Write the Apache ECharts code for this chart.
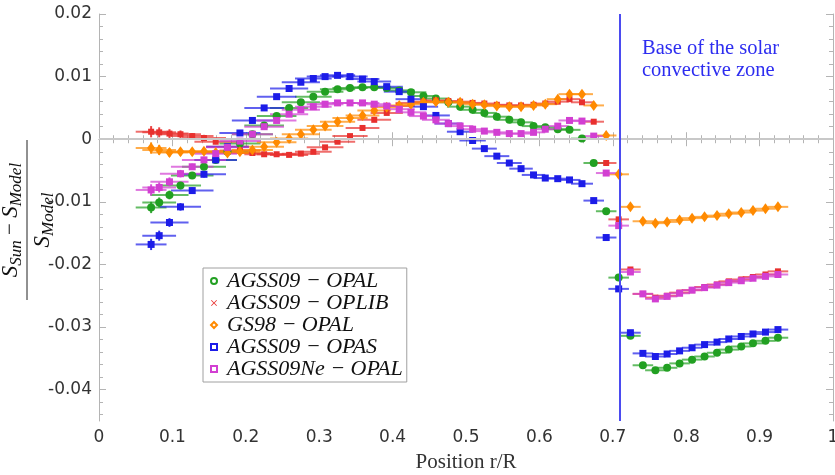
<!DOCTYPE html>
<html>
<head>
<meta charset="utf-8">
<script src="https://cdn.jsdelivr.net/npm/echarts@6/dist/echarts.min.js"></script>
<style>
  html, body { margin: 0; padding: 0; background: #fff; }
  #chart { width: 835px; height: 475px; }
</style>
</head>
<body>
<div id="chart"></div>
<script>
// radial positions r/R of the inversion kernels
var radius = [0.071,0.082,0.096,0.111,0.127,0.143,0.159,0.175,0.192,0.209,
  0.225,0.242,0.259,0.275,0.292,0.308,0.325,0.342,0.359,0.375,
  0.392,0.409,0.425,0.442,0.459,0.476,0.492,0.509,0.525,0.542,
  0.559,0.575,0.592,0.608,0.625,0.641,0.658,0.674,0.691,0.708,
  0.724,0.741,0.758,0.774,0.791,0.808,0.825,0.842,0.858,0.875,
  0.891,0.908,0.925];
// horizontal half width (kernel width) and vertical error
var halfWidth = [0.021,0.023,0.026,0.028,0.029,0.030,0.029,0.029,0.028,0.028,
  0.027,0.027,0.026,0.026,0.025,0.025,0.024,0.024,0.023,0.023,
  0.022,0.021,0.021,0.020,0.019,0.019,0.018,0.018,0.017,0.017,
  0.017,0.016,0.016,0.016,0.015,0.015,0.015,0.014,0.014,0.014,
  0.014,0.014,0.014,0.014,0.014,0.014,0.014,0.014,0.014,0.014,
  0.014,0.014,0.014];
var vertErr = [0.0009,0.0008,0.0007,0.0006,0.0005,0.0005,0.0004,0.0004,0.0004,0.0004,
  0.0003,0.0003,0.0003,0.0003,0.0003,0.0003,0.0003,0.0003,0.0003,0.0003,
  0.0003,0.0003,0.0003,0.0003,0.0003,0.0003,0.0003,0.0003,0.0003,0.0003,
  0.0003,0.0003,0.0003,0.0003,0.0003,0.0003,0.0003,0.0003,0.0003,0.0003,
  0.0003,0.0003,0.0003,0.0003,0.0003,0.0003,0.0003,0.0003,0.0003,0.0003,
  0.0003,0.0003,0.0003];

var agss09Opal = [-0.0109,-0.0101,-0.0089,-0.0074,-0.0058,-0.0044,-0.0033,-0.0020,-0.0007,0.0008,
  0.0022,0.0037,0.0050,0.0059,0.0068,0.0076,0.0080,0.0082,0.0083,0.0083,
  0.0082,0.0078,0.0075,0.0069,0.0065,0.0059,0.0052,0.0047,0.0042,0.0036,
  0.0031,0.0027,0.0021,0.0019,0.0016,0.0015,0.0001,-0.0038,-0.0115,-0.0221,
  -0.0314,-0.0361,-0.0369,-0.0365,-0.0358,-0.0352,-0.0347,-0.0341,-0.0336,-0.0331,
  -0.0326,-0.0322,-0.0317];
var agss09Oplib = [0.0012,0.0011,0.0009,0.0008,0.0005,0.0002,-0.0004,-0.0012,-0.0018,-0.0022,
  -0.0024,-0.0024,-0.0025,-0.0023,-0.0020,-0.0013,-0.0004,0.0005,0.0018,0.0031,
  0.0042,0.0053,0.0058,0.0060,0.0062,0.0061,0.0060,0.0058,0.0057,0.0055,
  0.0054,0.0054,0.0055,0.0057,0.0060,0.0064,0.0059,0.0028,-0.0038,-0.0128,
  -0.0208,-0.0247,-0.0253,-0.0250,-0.0245,-0.0241,-0.0236,-0.0232,-0.0227,-0.0224,
  -0.0220,-0.0216,-0.0211];
var gs98Opal = [-0.0014,-0.0017,-0.0021,-0.0020,-0.0020,-0.0019,-0.0021,-0.0022,-0.0020,-0.0017,
  -0.0012,-0.0005,0.0001,0.0008,0.0015,0.0021,0.0028,0.0034,0.0038,0.0046,
  0.0051,0.0054,0.0056,0.0059,0.0060,0.0059,0.0059,0.0056,0.0055,0.0053,
  0.0052,0.0052,0.0054,0.0056,0.0064,0.0072,0.0072,0.0054,0.0006,-0.0056,
  -0.0108,-0.0131,-0.0134,-0.0132,-0.0129,-0.0126,-0.0124,-0.0122,-0.0119,-0.0117,
  -0.0114,-0.0111,-0.0108];
var agss09Opas = [-0.0168,-0.0154,-0.0133,-0.0108,-0.0082,-0.0056,-0.0033,-0.0012,0.0010,0.0030,
  0.0050,0.0068,0.0081,0.0091,0.0097,0.0100,0.0102,0.0100,0.0096,0.0092,
  0.0084,0.0076,0.0064,0.0052,0.0038,0.0025,0.0012,-0.0002,-0.0015,-0.0027,
  -0.0038,-0.0047,-0.0057,-0.0062,-0.0063,-0.0065,-0.0071,-0.0098,-0.0157,-0.0239,
  -0.0309,-0.0342,-0.0347,-0.0343,-0.0338,-0.0333,-0.0328,-0.0324,-0.0319,-0.0315,
  -0.0311,-0.0308,-0.0304];
var agss09NeOpal = [-0.0081,-0.0077,-0.0068,-0.0055,-0.0044,-0.0033,-0.0023,-0.0013,-0.0003,0.0008,
  0.0020,0.0030,0.0040,0.0047,0.0052,0.0056,0.0058,0.0058,0.0058,0.0056,
  0.0053,0.0048,0.0043,0.0037,0.0031,0.0025,0.0021,0.0016,0.0013,0.0011,
  0.0009,0.0009,0.0011,0.0016,0.0021,0.0030,0.0029,0.0005,-0.0054,-0.0138,
  -0.0212,-0.0247,-0.0255,-0.0251,-0.0246,-0.0241,-0.0237,-0.0233,-0.0229,-0.0226,
  -0.0222,-0.0219,-0.0216];

var yTicks = [0.02, 0.01, 0, -0.01, -0.02, -0.03, -0.04];
var convectiveBase = 0.711;

// minor y ticks every 0.002
var yMinor = [];
for (var k = -22; k <= 10; k++) {
  if (k % 5 !== 0) yMinor.push(k * 2 / 1000);
}

var models = [
  { name: 'AGSS09 − OPAL',   values: agss09Opal,   color: '#22a022', symbol: 'circle', size: 8,      icon: 'emptyCircle' },
  { name: 'AGSS09 − OPLIB',  values: agss09Oplib,  color: '#e8302e', symbol: 'rect',   size: 6,      icon: 'path://M1,0L5,4L9,0L10,1L6,5L10,9L9,10L5,6L1,10L0,9L4,5L0,1Z' },
  { name: 'GS98 − OPAL',     values: gs98Opal,     color: '#ff8a00', symbol: 'diamond', size: [8, 11], icon: 'emptyDiamond' },
  { name: 'AGSS09 − OPAS',   values: agss09Opas,   color: '#1c1ce8', symbol: 'rect',   size: 7,      icon: 'emptyRect' },
  { name: 'AGSS09Ne − OPAL', values: agss09NeOpal, color: '#d23fd2', symbol: 'rect',   size: 7,      icon: 'emptyRect' }
];

function errRender(color) {
  return function (params, api) {
    var x = api.value(0), y = api.value(1), xe = api.value(2), ye = api.value(3);
    var a = api.coord([x - xe, y]), b = api.coord([x + xe, y]);
    var c = api.coord([x, y - ye]), d = api.coord([x, y + ye]);
    return {
      type: 'group',
      children: [
        { type: 'line', shape: { x1: a[0], y1: a[1], x2: b[0], y2: b[1] },
          style: { stroke: color, lineWidth: 2, opacity: 0.7 } },
        { type: 'line', shape: { x1: c[0], y1: c[1], x2: d[0], y2: d[1] },
          style: { stroke: color, lineWidth: 2, opacity: 0.9 } }
      ]
    };
  };
}

var series = [{
  type: 'line', data: [], silent: true,
  markLine: {
    silent: true, symbol: ['none', 'none'], label: { show: false }, animation: false,
    data: [
      { yAxis: 0, lineStyle: { color: '#c8c8c8', width: 2, type: 'solid' } },
      { xAxis: convectiveBase, lineStyle: { color: '#4b4bf0', width: 2, type: 'solid' } }
    ]
  }
}];

models.forEach(function (m) {
  var pts = [], errs = [];
  for (var i = 0; i < radius.length; i++) {
    if (m.values[i] == null) continue;
    pts.push([radius[i], m.values[i]]);
    errs.push([radius[i], m.values[i], halfWidth[i], vertErr[i]]);
  }
  series.push({
    type: 'custom', renderItem: errRender(m.color), data: errs,
    encode: { x: 0, y: 1 }, silent: true, animation: false
  });
  series.push({
    name: m.name, type: 'scatter', data: pts, symbol: m.symbol, symbolSize: m.size,
    itemStyle: { color: m.color, opacity: 1 }, animation: false
  });
});

var axisGrey = '#b4b4b4';
var labelStyle = { color: '#333', fontSize: 17, fontFamily: 'DejaVu Sans' };

var chart = echarts.init(document.getElementById('chart'));
chart.setOption({
  backgroundColor: '#fff',
  animation: false,
  grid: { left: 99, right: 2, top: 14, bottom: 54, containLabel: false, outerBoundsMode: 'none' },
  xAxis: [{
    type: 'value', min: 0, max: 1, interval: 0.1, position: 'bottom',
    axisLine: { lineStyle: { color: axisGrey } },
    axisTick: { inside: true, length: 7, lineStyle: { color: axisGrey } },
    minorTick: { show: true, splitNumber: 5, length: 4, lineStyle: { color: axisGrey } },
    splitLine: { show: false },
    axisLabel: Object.assign({ margin: 8 }, labelStyle),
    name: 'Position r/R', nameLocation: 'middle', nameGap: 31,
    nameTextStyle: { color: '#333', fontSize: 21, fontFamily: 'Liberation Serif' }
  }, {
    type: 'value', min: 0, max: 1, interval: 0.1, position: 'top',
    axisLine: { lineStyle: { color: axisGrey } },
    axisTick: { inside: true, length: 7, lineStyle: { color: axisGrey } },
    minorTick: { show: true, splitNumber: 5, length: 4, lineStyle: { color: axisGrey } },
    splitLine: { show: false }, axisLabel: { show: false }
  }],
  yAxis: [{
    type: 'value', min: -0.045, max: 0.02, position: 'left',
    axisLine: { show: true, lineStyle: { color: axisGrey } },
    axisTick: { inside: true, length: 7, customValues: yTicks, lineStyle: { color: axisGrey } },
    splitLine: { show: false },
    axisLabel: Object.assign({ margin: 7, customValues: yTicks }, labelStyle)
  }, {
    type: 'value', min: -0.045, max: 0.02, position: 'left',
    axisLine: { show: false },
    axisTick: { inside: true, length: 4, customValues: yMinor, lineStyle: { color: axisGrey } },
    splitLine: { show: false }, axisLabel: { show: false }
  }, {
    type: 'value', min: -0.045, max: 0.02, position: 'right',
    axisLine: { show: true, lineStyle: { color: axisGrey } },
    axisTick: { inside: true, length: 7, customValues: yTicks, lineStyle: { color: axisGrey } },
    splitLine: { show: false }, axisLabel: { show: false }
  }, {
    type: 'value', min: -0.045, max: 0.02, position: 'right',
    axisLine: { show: false },
    axisTick: { inside: true, length: 4, customValues: yMinor, lineStyle: { color: axisGrey } },
    splitLine: { show: false }, axisLabel: { show: false }
  }],
  legend: {
    orient: 'vertical', left: 203, top: 268, selectedMode: false,
    padding: [2, 4, 2, 7], itemGap: 0, itemWidth: 6, itemHeight: 6,
    backgroundColor: '#fff', borderColor: '#a0a0a0', borderWidth: 1,
    textStyle: { color: '#111', fontSize: 22, lineHeight: 22, fontStyle: 'italic',
      fontFamily: 'Liberation Serif', padding: [0, 0, 0, 5] },
    data: models.map(function (m) {
      return { name: m.name, icon: m.icon, itemStyle: { color: m.color, borderWidth: 1.5 } };
    })
  },
  graphic: [{
    type: 'text', left: 642, top: 38,
    style: {
      text: 'Base of the solar\nconvective zone', fill: '#2d2df0',
      font: '20.5px "Liberation Serif"', lineHeight: 22
    }
  }, {
    type: 'group', x: 27, y: 220, rotation: Math.PI / 2,
    children: [
      { type: 'line', shape: { x1: -80, y1: 0, x2: 80, y2: 0 }, style: { stroke: '#222', lineWidth: 1 } },
      { type: 'text', x: 0, y: -2, style: {
          text: '{s|S}{b|Sun}{m| − }{s|S}{b|Model}', align: 'center', verticalAlign: 'bottom',
          rich: {
            s: { fontSize: 23, fontStyle: 'italic', fontFamily: 'Liberation Serif', fill: '#111' },
            b: { fontSize: 17, fontStyle: 'italic', fontFamily: 'Liberation Serif', fill: '#111', padding: [12, 0, 0, 0] },
            m: { fontSize: 21, fontFamily: 'Liberation Serif', fill: '#111' }
          } } },
      { type: 'text', x: 0, y: 1, style: {
          text: '{s|S}{b|Model}', align: 'center', verticalAlign: 'top',
          rich: {
            s: { fontSize: 23, fontStyle: 'italic', fontFamily: 'Liberation Serif', fill: '#111' },
            b: { fontSize: 17, fontStyle: 'italic', fontFamily: 'Liberation Serif', fill: '#111', padding: [12, 0, 0, 0] }
          } } }
    ]
  }],
  series: series
});
</script>
</body>
</html>
